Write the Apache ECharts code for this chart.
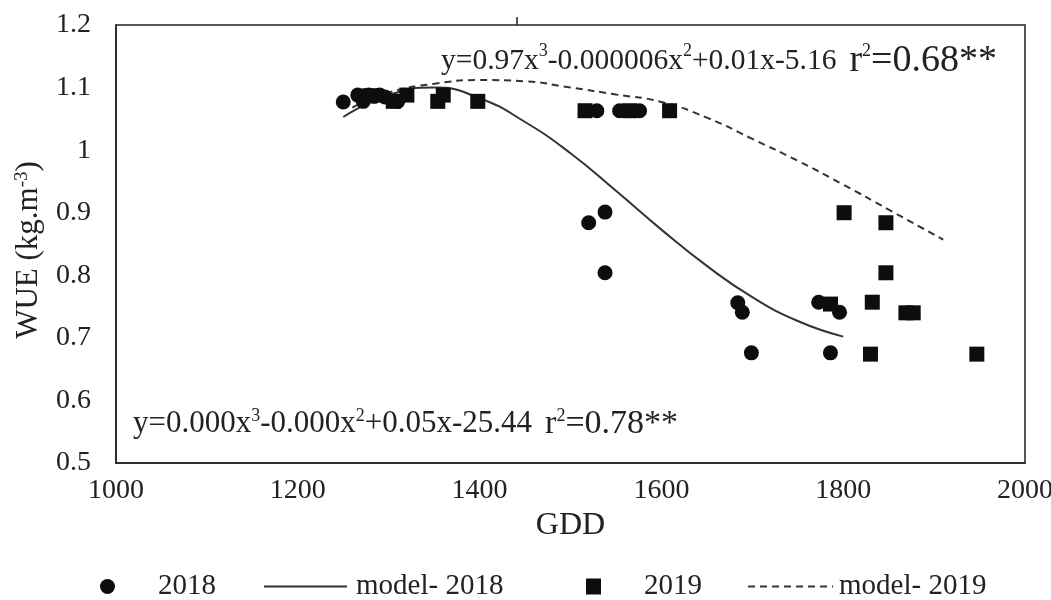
<!DOCTYPE html>
<html>
<head>
<meta charset="utf-8">
<script src="https://cdn.jsdelivr.net/npm/echarts@6/dist/echarts.min.js"></script>
<style>
  html, body { margin: 0; padding: 0; background: #fff; }
  #chart { width: 1051px; height: 600px; }
</style>
</head>
<body>
<div id="chart"></div>
<script>
// observed points, [GDD, WUE]
var wue2018 = [
  [1250, 1.077], [1266, 1.088], [1272, 1.078], [1278, 1.088], [1284, 1.086],
  [1290, 1.088], [1296, 1.085], [1310, 1.078],
  [1520, 0.884], [1538, 0.901], [1538, 0.804],
  [1529, 1.063], [1554, 1.063], [1576, 1.063],
  [1684, 0.756], [1689, 0.741], [1699, 0.676],
  [1773, 0.757], [1796, 0.741], [1786, 0.676]
];
var wue2019 = [
  [1279, 1.087], [1305, 1.078], [1320, 1.088], [1354, 1.078], [1360, 1.088], [1398, 1.078],
  [1516, 1.063], [1565, 1.063], [1609, 1.063],
  [1801, 0.900], [1847, 0.884], [1847, 0.804],
  [1786, 0.754], [1832, 0.757], [1869, 0.740], [1877, 0.740],
  [1830, 0.674], [1947, 0.674]
];
// fitted curves
var model2018 = [
  [1250, 1.053], [1300, 1.088], [1350, 1.100], [1400, 1.083], [1450, 1.045],
  [1500, 0.995], [1550, 0.935], [1600, 0.873], [1650, 0.815], [1700, 0.765],
  [1750, 0.727], [1800, 0.702]
];
var model2019 = [
  [1260, 1.068], [1300, 1.092], [1350, 1.106], [1400, 1.112], [1450, 1.110],
  [1500, 1.100], [1550, 1.089], [1600, 1.077], [1650, 1.052], [1700, 1.018],
  [1750, 0.983], [1800, 0.945], [1850, 0.905], [1910, 0.857]
];
var xTicks = { min: 1000, max: 2000, step: 200 };
var yTicks = { min: 0.5, max: 1.2, step: 0.1 };

var serif = '"Liberation Serif", "DejaVu Serif", serif';
var ink = '#0d0d0d';
var txt = '#222';

var chart = echarts.init(document.getElementById('chart'), null, { renderer: 'canvas' });

function eqRich(eSize, rSize) {
  return {
    e: { fontFamily: serif, fontSize: eSize, fill: txt },
    r: { fontFamily: serif, fontSize: rSize, fill: txt },
    g: { fontFamily: serif, fontSize: eSize, fill: txt, width: 13 },
    s: { fontFamily: serif, fontSize: 18, fill: txt, verticalAlign: 'top' }
  };
}

var option = {
  backgroundColor: '#fff',
  animation: false,
  textStyle: { fontFamily: serif, color: txt },
  grid: {
    left: 116, right: 26, top: 25, bottom: 137,
    outerBoundsMode: 'none',
    show: true, borderColor: '#222', borderWidth: 1.5
  },
  xAxis: {
    type: 'value',
    min: xTicks.min, max: xTicks.max, interval: xTicks.step,
    name: 'GDD',
    nameLocation: 'middle',
    nameGap: 41,
    nameTextStyle: { fontFamily: serif, fontSize: 32, color: txt },
    axisLine: { show: true, lineStyle: { color: '#222', width: 1.5 } },
    axisTick: { show: false },
    splitLine: { show: false },
    axisLabel: {
      fontFamily: serif, fontSize: 28, color: txt, margin: 14,
      formatter: function (v) { return String(v); }
    }
  },
  yAxis: {
    type: 'value',
    min: yTicks.min, max: yTicks.max, interval: yTicks.step,
    name: '{a|WUE (kg.m}{s|-3}{a|)}',
    nameLocation: 'middle',
    nameGap: 72,
    nameTextStyle: {
      color: txt,
      padding: [0, 12, 0, 0],
      rich: {
        a: { fontFamily: serif, fontSize: 31, color: txt },
        s: { fontFamily: serif, fontSize: 19, color: txt, verticalAlign: 'top' }
      }
    },
    axisLine: { show: true, lineStyle: { color: '#222', width: 1.5 } },
    axisTick: { show: false },
    splitLine: { show: false },
    axisLabel: { fontFamily: serif, fontSize: 28, color: txt, margin: 25 }
  },
  legend: [
    {
      data: [{ name: '2018', icon: 'circle' }],
      left: 95, top: 567, itemWidth: 15, itemHeight: 17,
      textStyle: { fontFamily: serif, fontSize: 29, color: txt, padding: [0, 0, 0, 38] }
    },
    {
      data: [{ name: 'model- 2018' }],
      left: 258, top: 567, itemWidth: 83, itemHeight: 17,
      itemStyle: { color: 'rgba(0,0,0,0)', borderWidth: 0 },
      textStyle: { fontFamily: serif, fontSize: 29, color: txt, padding: [0, 0, 0, 4] }
    },
    {
      data: [{ name: '2019', icon: 'rect' }],
      left: 581, top: 567, itemWidth: 15, itemHeight: 16,
      textStyle: { fontFamily: serif, fontSize: 29, color: txt, padding: [0, 0, 0, 38] }
    },
    {
      data: [{ name: 'model- 2019' }],
      left: 742, top: 567, itemWidth: 85, itemHeight: 17,
      itemStyle: { color: 'rgba(0,0,0,0)', borderWidth: 0 },
      textStyle: { fontFamily: serif, fontSize: 29, color: txt, padding: [0, 0, 0, 1] }
    }
  ],
  graphic: [
    {
      type: 'text', left: 441, top: 42,
      style: {
        text: '{e|y=0.97x}{s|3}{e|-0.000006x}{s|2}{e|+0.01x-5.16}{g|}{r|r}{s|2}{r|=0.68**}',
        rich: eqRich(29.5, 38)
      }
    },
    {
      type: 'text', left: 133, top: 407,
      style: {
        text: '{e|y=0.000x}{s|3}{e|-0.000x}{s|2}{e|+0.05x-25.44}{g|}{r|r}{s|2}{r|=0.78**}',
        rich: eqRich(31, 34)
      }
    },
    {
      // small stray tick above the frame in the original
      type: 'line', shape: { x1: 517, y1: 17, x2: 517, y2: 25 },
      style: { stroke: '#222', lineWidth: 1.5 }
    }
  ],
  series: [
    {
      name: '2018', type: 'scatter', data: wue2018,
      symbol: 'circle', symbolSize: 15,
      itemStyle: { color: ink, opacity: 1 }, z: 3
    },
    {
      name: 'model- 2018', type: 'line', data: model2018,
      smooth: true, symbol: 'none',
      lineStyle: { color: '#333', width: 2 },
      itemStyle: { color: '#333' }, z: 2
    },
    {
      name: '2019', type: 'scatter', data: wue2019,
      symbol: 'rect', symbolSize: 15,
      itemStyle: { color: ink, opacity: 1 }, z: 3
    },
    {
      name: 'model- 2019', type: 'line', data: model2019,
      smooth: true, symbol: 'none',
      lineStyle: { color: '#333', width: 2, type: [7, 5] },
      itemStyle: { color: '#333' }, z: 2
    }
  ]
};

chart.setOption(option);
</script>
</body>
</html>
